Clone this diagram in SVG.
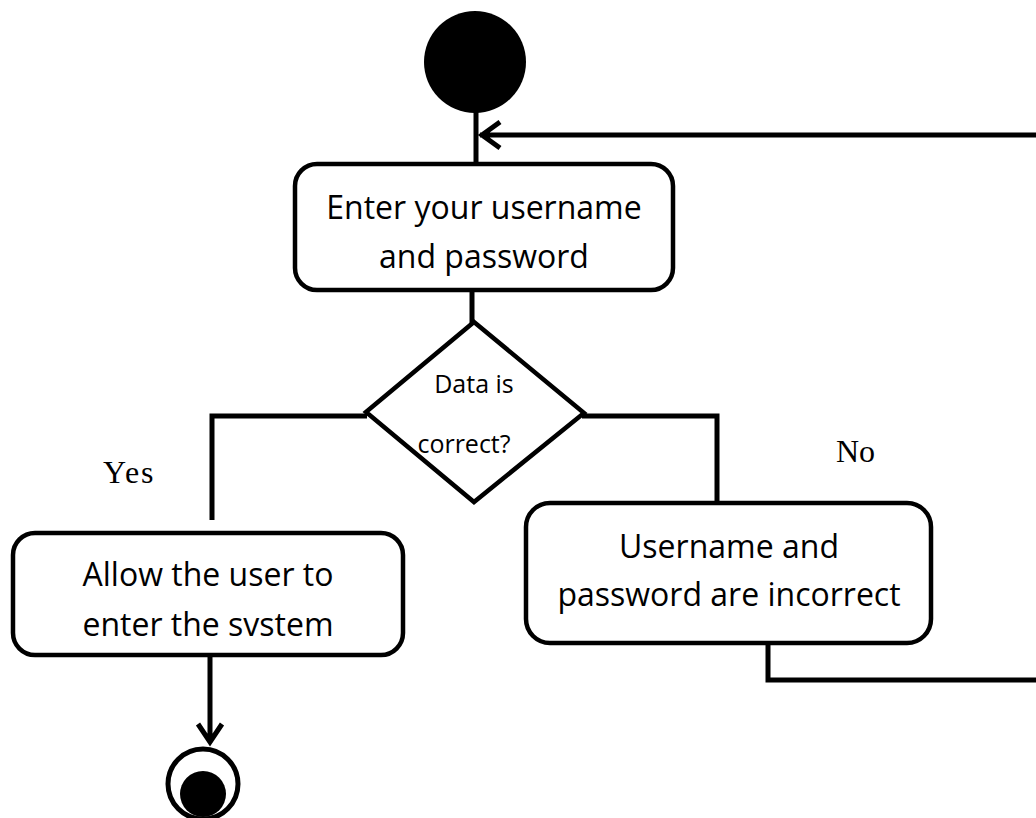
<svg xmlns="http://www.w3.org/2000/svg" width="1036" height="818" viewBox="0 0 1036 818">
<style>
.box{fill:#fff;stroke:#000;stroke-width:4.5}
.ln{fill:none;stroke:#000;stroke-width:5;stroke-linejoin:miter}
.t{font-family:"Open Sans","Liberation Sans",sans-serif;font-size:32px;fill:#000;text-anchor:middle}
.ts{font-family:"Open Sans","Liberation Sans",sans-serif;font-size:25px;fill:#000;text-anchor:middle}
.lbl{font-family:"Liberation Serif",serif;font-size:32px;fill:#000}
</style>
<g id="connectors">
<line class="ln" x1="476" y1="110" x2="476" y2="165"/>
<path class="ln" d="M480,135 H1040 M500,122 L482,135 L500,148"/>
<line class="ln" x1="472" y1="288" x2="472" y2="323"/>
<path class="ln" d="M367,416 H212 V520"/>
<path class="ln" d="M582,416 H717 V502"/>
<path class="ln" d="M210,646 V741 M198,724 L210,742 L222,724"/>
<path class="ln" d="M768,638 V680 H1040 V135"/>
<text class="lbl" x="103" y="483" letter-spacing="2">Yes</text>
<text class="lbl" x="836" y="462">No</text>
</g>
<g id="start"><circle cx="475" cy="62" r="51" fill="#000"/></g>
<g id="enter">
<rect class="box" x="295" y="164" width="378" height="126" rx="22"/>
<text class="t" x="484" y="219">Enter your username</text>
<text class="t" x="484" y="268">and password</text>
</g>
<g id="decision">
<polygon class="box" points="474,322 584,413 474,502 366,412"/>
<text class="ts" x="474" y="393">Data is</text>
<text class="ts" x="464" y="453">correct?</text>
</g>
<g id="allow">
<rect class="box" x="13" y="533" width="390" height="122" rx="22"/>
<text class="t" x="208" y="586">Allow the user to</text>
<text class="t" x="208" y="636">enter the svstem</text>
</g>
<g id="incorrect">
<rect class="box" x="526" y="503" width="405" height="140" rx="24"/>
<text class="t" x="729" y="558">Username and</text>
<text class="t" x="729" y="606">password are incorrect</text>
</g>
<g id="end">
<circle cx="203" cy="784" r="35" fill="#fff" stroke="#000" stroke-width="5"/>
<circle cx="203" cy="794" r="23" fill="#000"/>
</g>
</svg>
